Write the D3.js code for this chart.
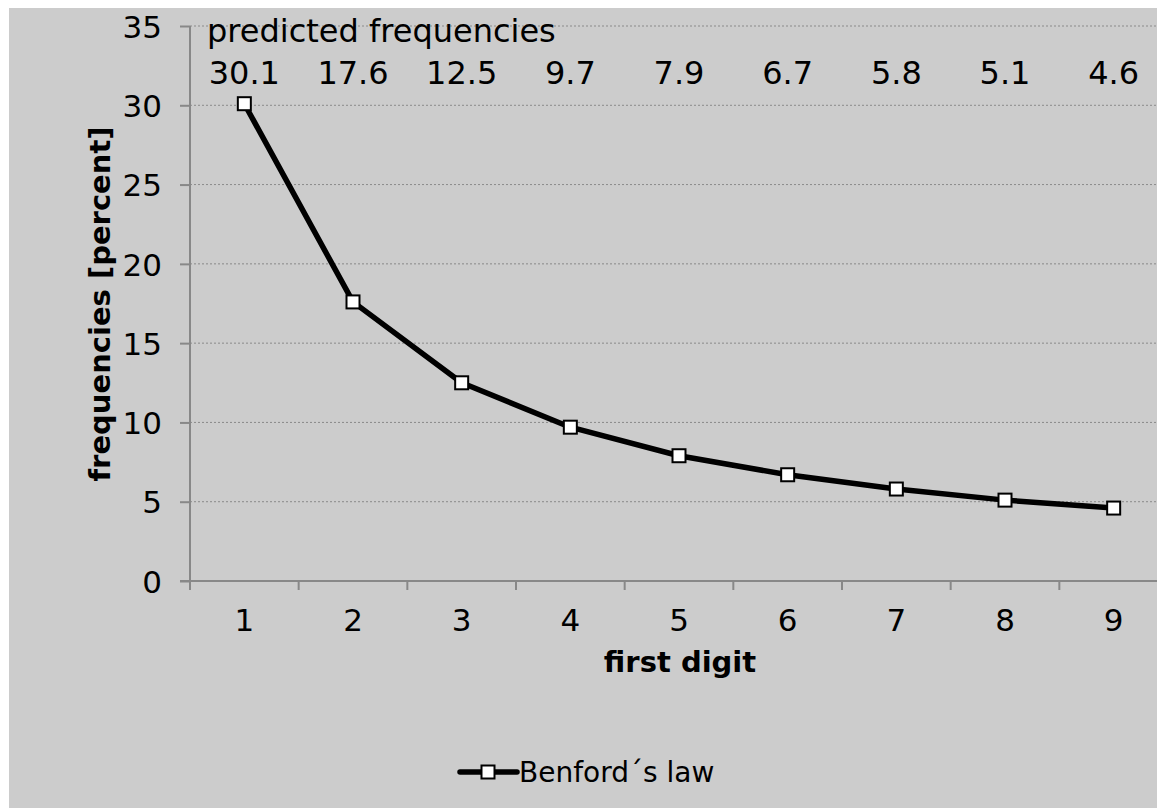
<!DOCTYPE html>
<html>
<head>
<meta charset="utf-8">
<script src="https://cdn.jsdelivr.net/npm/d3@7"></script>
<style>
  html, body { margin: 0; padding: 0; background: #fff; }
  svg { display: block; font-family: "DejaVu Sans", Verdana, sans-serif; }
</style>
</head>
<body>
<svg id="chart" width="1157" height="808"></svg>
<script>
// data
const digits = [1, 2, 3, 4, 5, 6, 7, 8, 9];
const benford = [30.1, 17.6, 12.5, 9.7, 7.9, 6.7, 5.8, 5.1, 4.6];
const yTicks = [0, 5, 10, 15, 20, 25, 30, 35];
const seriesName = "Benford\u00b4s law";
const topTitle = "predicted frequencies";

const svg = d3.select("#chart");

// grey chart background (white edge at top/left like the original)
svg.append("rect")
    .attr("x", 9).attr("y", 8)
    .attr("width", 1157 - 9).attr("height", 808 - 8)
    .attr("fill", "#cccccc");

// plot area runs off the right edge of the picture
const plotL = 190, plotR = 1168, plotT = 26, plotB = 581;

const x = d3.scaleBand().domain(digits).range([plotL, plotR]).padding(0);
const y = d3.scaleLinear().domain([0, 35]).range([plotB, plotT]);
const cx = d => x(d) + x.bandwidth() / 2;

// horizontal grid lines
svg.append("g")
    .selectAll("line")
    .data(yTicks.filter(t => t > 0))
    .join("line")
    .attr("x1", plotL).attr("x2", plotR)
    .attr("y1", d => y(d)).attr("y2", d => y(d))
    .attr("stroke", "#8a8a8a")
    .attr("stroke-width", 1)
    .attr("stroke-dasharray", "2,2");

// y axis
const yAxis = svg.append("g")
    .attr("transform", `translate(${plotL},0)`)
    .call(d3.axisLeft(y).tickValues(yTicks).tickSize(10).tickPadding(0));
yAxis.select(".domain").attr("stroke", "#888").attr("stroke-width", 2)
    .attr("d", `M0,${plotT}V${plotB + 9}`);
yAxis.selectAll(".tick line").attr("stroke", "#888").attr("stroke-width", 2);
yAxis.selectAll(".tick text")
    .attr("x", -28)
    .attr("dy", "0.36em")
    .attr("fill", "#000")
    .style("font-size", "31px")
    .style("font-family", "DejaVu Sans");

// x axis: ticks sit on category boundaries
const xAxis = svg.append("g").attr("transform", `translate(0,${plotB})`);
xAxis.append("line")
    .attr("x1", plotL - 10).attr("x2", plotR)
    .attr("stroke", "#888").attr("stroke-width", 2);
xAxis.selectAll(".bound")
    .data(digits)
    .join("line")
    .attr("class", "bound")
    .attr("x1", d => x(d)).attr("x2", d => x(d))
    .attr("y1", 0).attr("y2", 9)
    .attr("stroke", "#888").attr("stroke-width", 2);
xAxis.selectAll(".lab")
    .data(digits)
    .join("text")
    .attr("class", "lab")
    .attr("x", d => cx(d))
    .attr("y", 50)
    .attr("text-anchor", "middle")
    .style("font-size", "31px")
    .text(d => d);

// axis titles
svg.append("text")
    .attr("x", 680).attr("y", 672)
    .attr("text-anchor", "middle")
    .style("font-size", "29px")
    .style("font-weight", "bold")
    .text("first digit");

svg.append("text")
    .attr("transform", "translate(110,304) rotate(-90)")
    .attr("text-anchor", "middle")
    .style("font-size", "29px")
    .style("font-weight", "bold")
    .text("frequencies [percent]");

// predicted frequencies annotation
svg.append("text")
    .attr("x", 207).attr("y", 42)
    .style("font-size", "32px")
    .text(topTitle);

svg.append("g")
    .selectAll("text")
    .data(digits)
    .join("text")
    .attr("x", d => cx(d))
    .attr("y", 84)
    .attr("text-anchor", "middle")
    .style("font-size", "32px")
    .text((d, i) => benford[i].toFixed(1));

// series line
const line = d3.line().x(d => cx(d)).y((d, i) => y(benford[i]));
svg.append("path")
    .datum(digits)
    .attr("d", line)
    .attr("fill", "none")
    .attr("stroke", "#000")
    .attr("stroke-width", 5.5)
    .attr("stroke-linejoin", "round");

// markers
const ms = 13;
svg.append("g")
    .selectAll("rect")
    .data(digits)
    .join("rect")
    .attr("x", d => cx(d) - ms / 2)
    .attr("y", (d, i) => y(benford[i]) - ms / 2)
    .attr("width", ms).attr("height", ms)
    .attr("fill", "#fff")
    .attr("stroke", "#000")
    .attr("stroke-width", 2);

// legend
const lg = svg.append("g").attr("transform", "translate(460,772)");
lg.append("line")
    .attr("x1", 0).attr("x2", 57)
    .attr("stroke", "#000").attr("stroke-width", 5.5)
    .attr("stroke-linecap", "round");
lg.append("rect")
    .attr("x", 28 - ms / 2).attr("y", -ms / 2)
    .attr("width", ms).attr("height", ms)
    .attr("fill", "#fff").attr("stroke", "#000").attr("stroke-width", 2);
lg.append("text")
    .attr("x", 59).attr("y", 10)
    .style("font-size", "28px")
    .text(seriesName);
</script>
</body>
</html>
